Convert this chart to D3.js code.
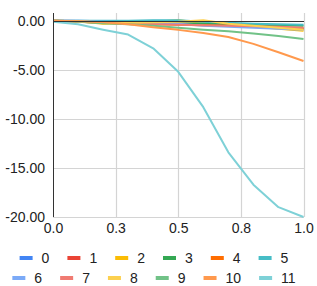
<!DOCTYPE html>
<html>
<head>
<meta charset="utf-8">
<script src="https://cdn.jsdelivr.net/npm/d3@7"></script>
<style>
    body { margin: 0; background: #fff; }
    svg { display: block; font-family: 'Liberation Sans', Arial, sans-serif; }
</style>
</head>
<body>
<div id="chart"></div>
<script>
// Data
const xValues = [0, 0.1, 0.2, 0.3, 0.4, 0.5, 0.6, 0.7, 0.8, 0.9, 1.0];
const seriesNames = ['0', '1', '2', '3', '4', '5', '6', '7', '8', '9', '10', '11'];
const s0 = [0, 0, -0.05, -0.1, -0.2, -0.3, -0.4, -0.5, -0.6, -0.7, -0.8];
const s1 = [0, -0.02, -0.05, -0.1, -0.15, -0.25, -0.35, -0.45, -0.55, -0.65, -0.75];
const s2 = [0, -0.05, -0.3, -0.25, -0.1, 0.05, -0.2, -0.4, -0.6, -0.8, -1.0];
const s3 = [0, -0.05, -0.1, -0.15, -0.2, -0.25, -0.3, -0.35, -0.4, -0.45, -0.5];
const s4 = [0, -0.1, -0.2, -0.3, -0.35, -0.4, -0.45, -0.5, -0.6, -0.7, -0.8];
const s5 = [0, 0, 0, 0, 0.05, 0.05, -0.1, -0.2, -0.3, -0.35, -0.4];
const s6 = [0, -0.05, -0.1, -0.15, -0.2, -0.3, -0.5, -0.6, -0.7, -0.8, -0.9];
const s7 = [0, -0.1, -0.2, -0.3, -0.35, -0.4, -0.45, -0.5, -0.55, -0.6, -0.7];
const s8 = [0, -0.05, -0.2, -0.2, -0.15, -0.1, 0.05, -0.3, -0.5, -0.7, -0.9];
const s9 = [0, -0.1, -0.25, -0.35, -0.5, -0.7, -0.9, -1.05, -1.3, -1.55, -1.85];
const s10 = [0, -0.05, -0.15, -0.35, -0.65, -0.92, -1.25, -1.65, -2.35, -3.2, -4.1];
const s11 = [-0.1, -0.35, -0.9, -1.4, -2.8, -5.2, -8.8, -13.4, -16.7, -19.0, -20.0];
const seriesValues = [s0, s1, s2, s3, s4, s5, s6, s7, s8, s9, s10, s11];
const seriesColors = ['#4285f4', '#ea4335', '#fbbc04', '#34a853', '#ff6d01', '#46bdc6',
    '#7baaf7', '#f07b72', '#fcd04f', '#71c287', '#ff994d', '#7ed1d7'];
const xTicks = [0, 0.25, 0.5, 0.75, 1.0];
const xTickLabels = ['0.0', '0.3', '0.5', '0.8', '1.0'];
const yTicks = [0, -5, -10, -15, -20];
const yTickLabels = ['0.00', '-5.00', '-10.00', '-15.00', '-20.00'];
const legendRows = [[0, 1, 2, 3, 4, 5], [6, 7, 8, 9, 10, 11]];

const width = 317;
const height = 286;
const margin = { top: 13, right: 13, bottom: 69, left: 53 };

const svg = d3.select('#chart')
    .append('svg')
    .attr('width', width)
    .attr('height', height);

const x = d3.scaleLinear()
    .domain([0, 1])
    .range([margin.left, width - margin.right - 0.5]);
const y = d3.scaleLinear()
    .domain([-20, 0.8])
    .range([height - margin.bottom, margin.top]);

// Gridlines
const grid = svg.append('g');
grid.selectAll('.vgrid')
    .data(xTicks.slice(1))
    .join('line')
    .attr('x1', (d) => Math.round(x(d)) + 0.5)
    .attr('x2', (d) => Math.round(x(d)) + 0.5)
    .attr('y1', margin.top)
    .attr('y2', height - margin.bottom)
    .attr('stroke', '#d4d4d4')
    .attr('stroke-width', 1.2);
grid.selectAll('.hgrid')
    .data(yTicks.slice(1))
    .join('line')
    .attr('x1', margin.left)
    .attr('x2', width - margin.right)
    .attr('y1', (d) => Math.round(y(d)) + 0.5)
    .attr('y2', (d) => Math.round(y(d)) + 0.5)
    .attr('stroke', '#d4d4d4')
    .attr('stroke-width', 1.2);

// Axes (labels only, lines drawn separately)
const xAxis = d3.axisBottom(x)
    .tickValues(xTicks)
    .tickFormat((d, i) => xTickLabels[i])
    .tickSize(0)
    .tickPadding(6);
svg.append('g')
    .attr('transform', `translate(0, ${height - margin.bottom})`)
    .call(xAxis)
    .call((g) => g.select('.domain').remove())
    .selectAll('text')
    .attr('font-size', 14)
    .attr('font-family', "'Liberation Sans', Arial, sans-serif")
    .attr('fill', '#222');

const yAxis = d3.axisLeft(y)
    .tickValues(yTicks)
    .tickFormat((d, i) => yTickLabels[i])
    .tickSize(0)
    .tickPadding(8);
svg.append('g')
    .attr('transform', `translate(${margin.left}, 0)`)
    .call(yAxis)
    .call((g) => g.select('.domain').remove())
    .selectAll('text')
    .attr('font-size', 14)
    .attr('font-family', "'Liberation Sans', Arial, sans-serif")
    .attr('fill', '#222');

// Series lines
const line = d3.line()
    .x((d, i) => x(xValues[i]))
    .y((d) => y(d));
svg.append('g')
    .selectAll('path')
    .data(seriesValues)
    .join('path')
    .attr('d', (d) => line(d))
    .attr('fill', 'none')
    .attr('stroke', (d, i) => seriesColors[i])
    .attr('stroke-width', 2)
    .attr('stroke-linejoin', 'round');

// Zero baseline and left axis line
svg.append('line')
    .attr('x1', margin.left)
    .attr('x2', width - margin.right)
    .attr('y1', Math.round(y(0)) + 0.5)
    .attr('y2', Math.round(y(0)) + 0.5)
    .attr('stroke', '#333')
    .attr('stroke-width', 1);
svg.append('line')
    .attr('x1', margin.left + 0.5)
    .attr('x2', margin.left + 0.5)
    .attr('y1', margin.top)
    .attr('y2', height - margin.bottom)
    .attr('stroke', '#333')
    .attr('stroke-width', 1);

// Legend
const swatchW = 13;
const swatchGap = 9;
const itemGap = 18;
const legendCenter = 154;
const legendY = [258, 278];
const legend = svg.append('g');
legendRows.forEach((row, r) => {
    const rowG = legend.append('g');
    let cursor = 0;
    row.forEach((idx) => {
        const item = rowG.append('g').attr('transform', `translate(${cursor}, 0)`);
        item.append('rect')
            .attr('x', 0)
            .attr('y', -2)
            .attr('width', swatchW)
            .attr('height', 4)
            .attr('fill', seriesColors[idx]);
        const text = item.append('text')
            .attr('x', swatchW + swatchGap)
            .attr('dy', '0.35em')
            .attr('font-size', 14)
            .attr('fill', '#222')
            .text(seriesNames[idx]);
        cursor += swatchW + swatchGap + text.node().getComputedTextLength() + itemGap;
    });
    const rowWidth = cursor - itemGap;
    rowG.attr('transform', `translate(${legendCenter - rowWidth / 2}, ${legendY[r]})`);
});
</script>
</body>
</html>
